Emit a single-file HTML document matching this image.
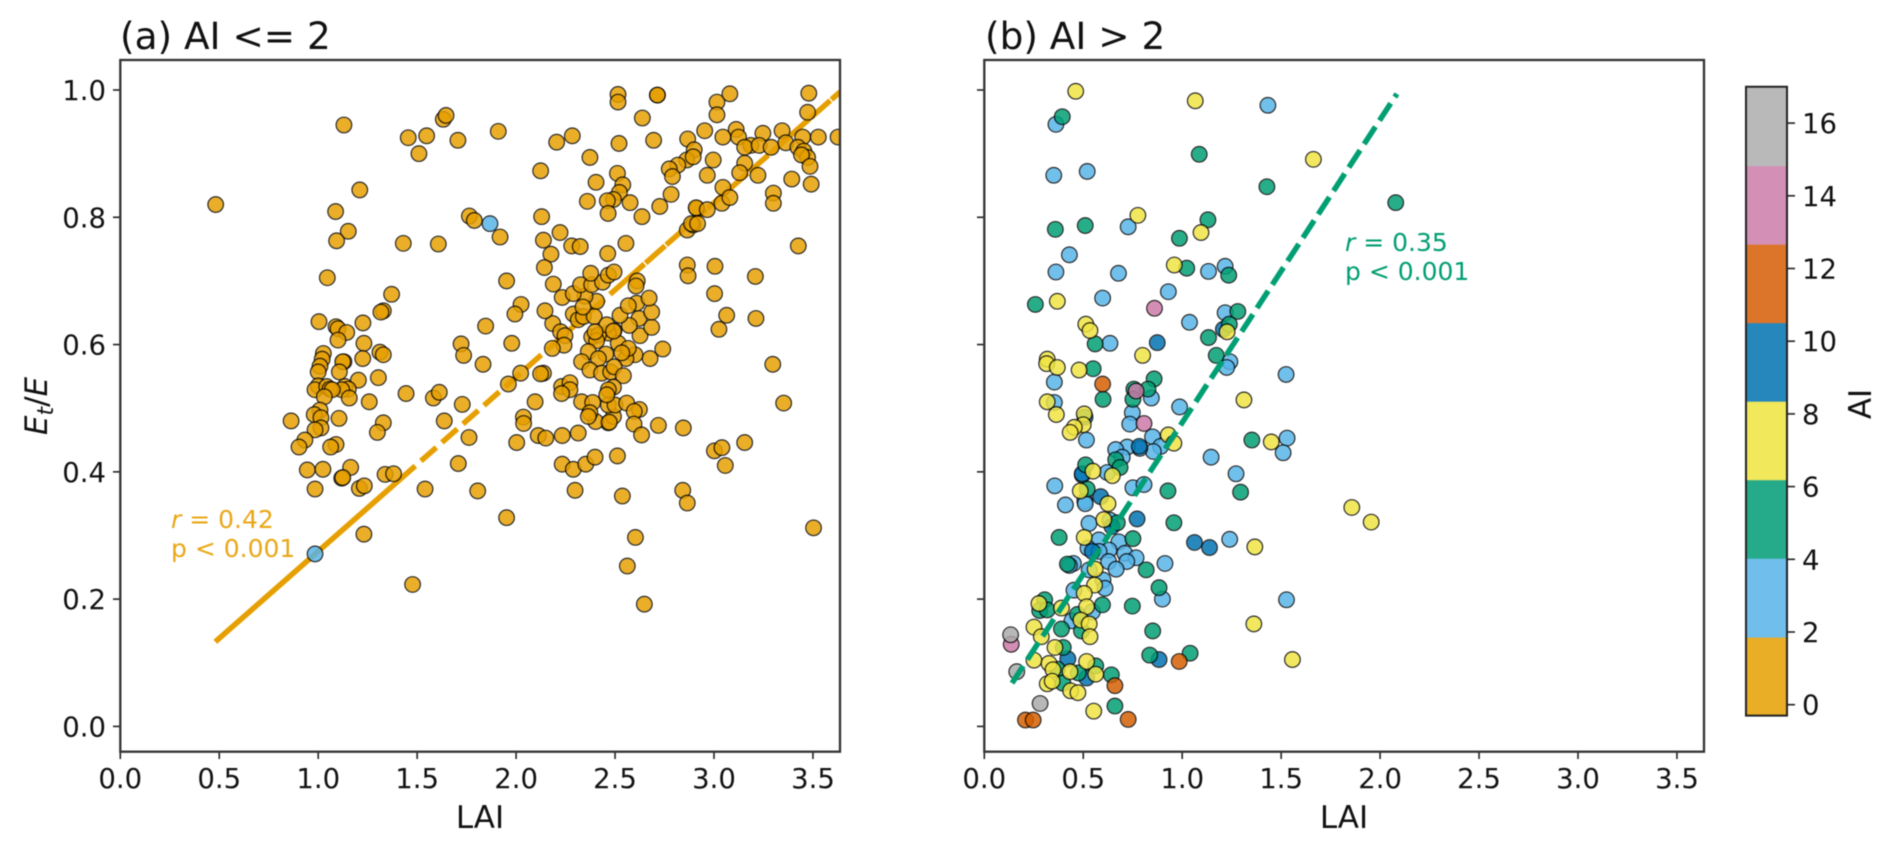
<!DOCTYPE html>
<html lang="en">
<head>
<meta charset="utf-8">
<title>Et/E versus LAI by aridity index</title>
<style>
html,body{margin:0;padding:0;background:#fff;}
body{width:1892px;height:847px;overflow:hidden;}
svg{display:block;filter:blur(0.5px);}
text{font-family:"DejaVu Sans","Liberation Sans",sans-serif;fill:#111;}
</style>
</head>
<body>
<svg id="chart" xmlns="http://www.w3.org/2000/svg" width="1892" height="847" viewBox="0 0 1892 847">
  <defs>
    <clipPath id="clip-a"><rect x="120.3" y="60" width="719.7" height="691.7"/></clipPath>
    <clipPath id="clip-b"><rect x="984.3" y="60" width="719.7" height="691.7"/></clipPath>
  </defs>
  <rect x="0" y="0" width="1892" height="847" fill="#fff"/>

  <g id="panel-a-lines" clip-path="url(#clip-a)"></g>
  <g id="panel-a-points" clip-path="url(#clip-a)"></g>
  <g id="panel-b-points" clip-path="url(#clip-b)"></g>
  <g id="panel-b-lines" clip-path="url(#clip-b)"></g>
  <g id="ticks"></g>
  <g id="colorbar"></g>

  <rect x="120.3" y="60" width="719.7" height="691.7" fill="none" stroke="#333" stroke-width="2.3"/>
  <rect x="984.3" y="60" width="719.7" height="691.7" fill="none" stroke="#333" stroke-width="2.3"/>

  <text x="120" y="49" font-size="37.4">(a) AI &lt;= 2</text>
  <text x="985" y="49" font-size="37.4">(b) AI &gt; 2</text>

  <text transform="translate(47,406) rotate(-90)" text-anchor="middle" font-size="31"><tspan font-style="italic">E</tspan><tspan font-style="italic" font-size="22" dy="6">t</tspan><tspan dy="-6">/</tspan><tspan font-style="italic">E</tspan></text>
  <text x="480" y="828" text-anchor="middle" font-size="31">LAI</text>
  <text x="1344" y="828" text-anchor="middle" font-size="31">LAI</text>

  <text x="171" y="528" font-size="25" style="fill:#e9a716"><tspan font-style="italic">r</tspan> = 0.42</text>
  <text x="171" y="557" font-size="25" style="fill:#e9a716">p &lt; 0.001</text>
  <text x="1345" y="251" font-size="25" style="fill:#009e73"><tspan font-style="italic">r</tspan> = 0.35</text>
  <text x="1345" y="280" font-size="25" style="fill:#009e73">p &lt; 0.001</text>
  <text transform="translate(1871,404) rotate(-90)" text-anchor="middle" font-size="31">AI</text>
</svg>

<script>
/* ---------- tick data ---------- */
const xTicks = [0, 0.5, 1, 1.5, 2, 2.5, 3, 3.5];
const xTickLabels = ['0.0', '0.5', '1.0', '1.5', '2.0', '2.5', '3.0', '3.5'];
const yTicks = [0, 0.2, 0.4, 0.6, 0.8, 1];
const yTickLabels = ['0.0', '0.2', '0.4', '0.6', '0.8', '1.0'];
const cbarTicks = [0, 2, 4, 6, 8, 10, 12, 14, 16];
const cbarTickLabels = ['0', '2', '4', '6', '8', '10', '12', '14', '16'];
const cbarEdges = [-0.3, 1.86, 4.03, 6.19, 8.35, 10.51, 12.67, 14.83, 17];

/* ---------- panel (a): AI <= 2 ---------- */
const laiA = [
.482,1.13,1.21,1.088,1.152,1.093,1.046,1.371,1.329,1.317,
1.226,1.004,1.09,1.10,1.144,1.10,1.231,1.312,1.329,1.026,
1.02,1.009,1.13,1.124,1.225,1.107,1.0,1.203,1.304,1.135,
1.152,1.119,1.0,.984,1.043,1.06,1.071,1.031,1.157,1.258,
1.009,.98,1.014,1.105,.863,1.329,1.299,1.014,.984,.933,
.903,1.09,1.063,.945,1.024,1.164,1.119,1.124,.984,1.208,
1.233,1.338,1.381,1.231,
1.632,1.646,1.455,1.548,1.509,1.706,1.91,2.124,2.205,2.284,
2.373,2.515,2.515,2.714,2.714,2.638,2.52,2.695,2.867,2.9,
2.862,2.895,2.817,2.774,2.79,2.512,2.539,2.404,2.522,2.492,
2.461,2.576,2.36,2.783,2.726,2.465,2.636,2.913,2.129,1.764,
1.789,1.919,1.43,1.607,1.952,2.025,1.994,1.846,2.138,2.222,
2.176,2.143,2.281,2.324,2.463,2.555,2.865,2.895,
3.426,2.865,2.869,3.005,3.209,3.003,3.064,3.212,3.025,3.297,
3.352,2.741,2.677,2.601,2.555,2.626,2.685,2.621,2.572,2.525,
2.685,2.609,2.672,2.567,2.495,2.466,2.516,2.567,2.382,2.416,
2.407,2.365,2.453,2.416,2.331,2.373,2.432,2.478,2.495,2.542,
2.534,2.138,2.185,2.225,2.247,2.242,2.183,2.146,2.289,2.314,
2.34,2.395,2.407,2.348,2.233,2.289,2.326,2.382,2.437,2.377,
2.466,2.495,2.188,2.612,2.606,2.338,2.458,2.492,2.399,
2.124,2.023,1.961,2.096,1.444,1.582,1.612,1.728,1.637,1.762,
1.708,1.54,1.806,1.952,1.477,1.722,1.735,1.978,1.833,2.23,
2.272,2.272,2.23,2.331,2.387,2.037,2.038,2.003,2.112,2.15,
2.233,2.314,2.466,2.402,2.373,2.492,2.466,2.5,2.559,2.623,
2.597,2.596,2.634,2.719,2.845,2.492,2.466,2.458,2.233,2.289,
2.352,2.399,2.512,2.298,2.537,2.842,2.865,2.603,2.562,2.648,
2.365,2.471,
3.015,3.08,3.015,2.953,3.112,3.124,3.045,3.186,3.247,3.344,
3.155,3.228,3.289,3.363,3.479,3.473,3.527,3.627,3.448,3.424,
3.454,3.473,3.442,3.485,3.491,2.996,3.155,3.13,3.045,3.04,
3.08,3.222,3.30,3.30,3.393,2.966,2.91,2.886,2.917,2.966,
3.155,3.002,3.04,3.057,3.503
];
const etA = [
.82,.945,.843,.809,.778,.763,.705,.679,.653,.651,
.634,.636,.628,.625,.619,.607,.602,.588,.584,.586,
.577,.566,.573,.573,.578,.557,.557,.544,.548,.534,
.53,.529,.535,.529,.534,.53,.529,.518,.516,.51,
.497,.49,.485,.484,.48,.477,.462,.469,.466,.45,
.439,.443,.439,.403,.404,.407,.39,.391,.373,.374,
.378,.396,.397,.302,
.954,.96,.925,.928,.9,.921,.935,.873,.918,.928,
.894,.993,.981,.992,.992,.956,.916,.921,.923,.906,
.89,.895,.882,.876,.864,.869,.851,.855,.839,.828,
.826,.823,.825,.836,.817,.806,.801,.814,.801,.802,
.795,.769,.759,.758,.70,.663,.648,.629,.764,.776,
.742,.721,.755,.754,.743,.759,.78,.788,
.755,.725,.708,.723,.707,.68,.646,.641,.624,.569,
.508,.593,.578,.584,.578,.614,.627,.641,.63,.646,
.651,.665,.673,.661,.622,.618,.602,.594,.612,.615,
.606,.589,.585,.578,.573,.56,.555,.557,.565,.551,
.587,.555,.633,.62,.614,.599,.594,.653,.648,.639,
.644,.644,.668,.676,.674,.68,.694,.694,.698,.712,
.709,.714,.695,.70,.692,.659,.631,.621,.62,
.554,.555,.538,.51,.523,.516,.525,.506,.48,.454,
.413,.373,.37,.328,.223,.601,.583,.602,.569,.534,
.54,.529,.523,.51,.509,.486,.476,.446,.457,.453,
.457,.461,.477,.479,.493,.487,.505,.505,.508,.498,
.495,.475,.458,.473,.469,.533,.529,.521,.412,.404,
.412,.423,.425,.371,.362,.371,.351,.297,.252,.192,
.487,.478,
.981,.994,.961,.936,.938,.926,.926,.913,.932,.936,
.91,.913,.91,.917,.995,.965,.926,.926,.926,.91,
.904,.894,.898,.88,.852,.89,.885,.87,.847,.822,
.831,.866,.838,.822,.86,.866,.815,.79,.79,.812,
.446,.433,.438,.41,.312
];
const laiAHumid = [1.868, .984];
const etAHumid = [.79, .271];
const fitALai = [0.48, 1.413, 2.55, 3.637];
const fitAEt = [0.133, 0.388, 0.6996, 0.997];

/* ---------- panel (b): AI > 2, one pair of arrays per colour class ---------- */
const laiBSky = [
.362,.351,.52,.43,.362,.598,.635,.354,.516,.354,
1.433,1.133,1.217,1.217,1.037,1.241,1.225,.727,.678,.93,
.844,.748,.987,.735,.85,.891,.854,.786,.722,.664,.697,
1.146,1.272,1.525,1.53,1.51,.495,.621,.356,.751,.807,
.508,.51,.41,.635,.529,.68,1.24,.579,.63,.524,.58,.71,.767,.72,.628,.666,.913,.45,.43,.53,.60,.61,.453,.90,.546,.443,1.527
];
const etBSky = [
.946,.866,.872,.741,.714,.673,.602,.541,.45,.509,
.976,.715,.723,.65,.635,.573,.564,.785,.712,.683,
.516,.493,.502,.475,.455,.44,.432,.437,.439,.435,.423,
.423,.397,.553,.453,.43,.395,.399,.378,.375,.38,
.354,.35,.348,.324,.319,.29,.294,.293,.277,.28,.275,.272,.265,.259,.259,.247,.256,.256,.253,.246,.23,.217,.214,.2,.18,.166,.199
];
const laiBNavy = [.874,.509,.495,.588,.772,.645,.546,1.062,1.138,.883,.422,.517,1.208,.783];
const etBNavy = [.603,.486,.397,.361,.326,.314,.275,.289,.281,.105,.106,.076,.624,.44];
const laiBGreen = [
.394,.359,.51,.258,.56,.55,.60,1.086,1.428,2.079,1.13,.986,1.023,1.235,1.281,1.238,1.133,1.172,.858,.756,.827,.751,.664,.686,1.295,1.352,.512,.928,.52,.958,.672,.378,.751,.818,.42,.883,.597,.748,.305,.28,.318,.471,.39,.491,.851,.399,.563,.475,.369,.642,.836,1.04,.397,.66
];
const etBGreen = [
.958,.781,.787,.663,.601,.562,.514,.899,.848,.823,.796,.767,.72,.709,.652,.632,.611,.583,.546,.53,.53,.514,.419,.407,.368,.45,.411,.37,.373,.32,.32,.297,.295,.246,.255,.218,.191,.189,.199,.182,.183,.176,.153,.15,.15,.124,.095,.084,.09,.081,.112,.115,.068,.032
];
const laiBYellow = [
.462,1.066,1.663,1.095,.776,.96,.369,.513,.534,.318,.315,.369,.479,.318,.364,.505,.50,.455,.434,.80,1.312,.93,.958,.549,.647,.485,.625,.604,.505,.56,.557,.505,.517,.276,.39,.488,.53,.251,.288,.534,.357,.251,.327,.517,.563,.433,.347,.318,.343,.436,.473,.553,1.45,1.857,1.955,1.367,1.362,1.557,1.227
];
const etBYellow = [
.998,.983,.891,.776,.803,.725,.668,.632,.622,.577,.57,.564,.56,.51,.49,.491,.474,.47,.462,.583,.513,.458,.445,.401,.394,.37,.35,.325,.297,.247,.222,.209,.188,.193,.186,.167,.161,.156,.141,.141,.124,.104,.099,.102,.082,.086,.089,.067,.071,.056,.053,.024,.447,.344,.321,.282,.161,.105,.62
];
const laiBOrange = [.598,.66,.985,.727,.208,.247];
const etBOrange = [.538,.064,.102,.011,.01,.01];
const laiBPink = [.767,.807,.136,.86];
const etBPink = [.527,.476,.129,.657];
const laiBGrey = [.133,.164,.282];
const etBGrey = [.144,.086,.036];
const fitBLai = [0.14, 2.085];
const fitBEt = [0.068, 0.994];

/* ---------- colours ---------- */
const colGold = '#e69f00';
const colSky = '#56b4e9';
const colGreen = '#009e73';
const colYellow = '#f0e442';
const colNavy = '#0072b2';
const colOrange = '#d55e00';
const colPink = '#cc79a7';
const colGrey = '#aaaaaa';
const cbarColors = ['#e9ad26', '#6fbeec', '#26ab8a', '#f2e85c', '#2687bd', '#dc7529', '#d38fb6', '#b9b9b9'];

/* ---------- axis functions ---------- */
const PXW = 197.9;
const xAxisA = v => 120.3 + v * PXW;
const xAxisB = v => 984.3 + v * PXW;
const yAxis = v => 726.4 - v * 636.4;
const cbarAxis = v => 704.7 - v * 36.35;

const NS = 'http://www.w3.org/2000/svg';
function mk(tag, parent, attrs) {
  const el = document.createElementNS(NS, tag);
  for (const k in attrs) el.setAttribute(k, attrs[k]);
  parent.appendChild(el);
  return el;
}

function drawPoints(parent, xFn, lai, et, color) {
  for (let i = 0; i < lai.length; i++) {
    const c = mk('circle', parent, {cx: xFn(lai[i]), cy: yAxis(et[i]), r: 7.8, fill: color, stroke: '#000', 'stroke-width': 1.2, opacity: 0.84});
    
    
  }
}

function drawFit(parent, xFn, lai, et, i, color, dash) {
  const l = mk('line', parent, {x1: xFn(lai[i]), y1: yAxis(et[i]), x2: xFn(lai[i + 1]), y2: yAxis(et[i + 1]), stroke: color, 'stroke-width': 5.5});
  if (dash) l.setAttribute('stroke-dasharray', dash);
  
  
}

/* ---------- draw panel (a) ---------- */
const gLinesA = document.getElementById('panel-a-lines');
drawFit(gLinesA, xAxisA, fitALai, fitAEt, 0, colGold, '');
drawFit(gLinesA, xAxisA, fitALai, fitAEt, 1, colGold, '20.5 7.5');
drawFit(gLinesA, xAxisA, fitALai, fitAEt, 2, colGold, '26 1.5');
const gPtsA = document.getElementById('panel-a-points');
drawPoints(gPtsA, xAxisA, laiA, etA, colGold);
drawPoints(gPtsA, xAxisA, laiAHumid, etAHumid, colSky);

/* ---------- draw panel (b) ---------- */
const gPtsB = document.getElementById('panel-b-points');
drawPoints(gPtsB, xAxisB, laiBSky, etBSky, colSky);
drawPoints(gPtsB, xAxisB, laiBNavy, etBNavy, colNavy);
drawPoints(gPtsB, xAxisB, laiBGreen, etBGreen, colGreen);
drawPoints(gPtsB, xAxisB, laiBYellow, etBYellow, colYellow);
drawPoints(gPtsB, xAxisB, laiBOrange, etBOrange, colOrange);
drawPoints(gPtsB, xAxisB, laiBPink, etBPink, colPink);
drawPoints(gPtsB, xAxisB, laiBGrey, etBGrey, colGrey);
drawFit(document.getElementById('panel-b-lines'), xAxisB, fitBLai, fitBEt, 0, colGreen, '20.5 7.5');

/* ---------- ticks ---------- */
const gTicks = document.getElementById('ticks');
[xAxisA, xAxisB].forEach(fn => {
  xTicks.forEach((v, i) => {
    const t = mk('line', gTicks, {x1: fn(v), x2: fn(v), y1: 751.7, y2: 759, stroke: '#222', 'stroke-width': 1.6});
    
    
    const lab = mk('text', gTicks, {x: fn(v), y: 788, 'text-anchor': 'middle', 'font-size': 27.5});
    lab.textContent = xTickLabels[i];
    
    
  });
});
yTicks.forEach((v, i) => {
  const t = mk('line', gTicks, {x1: 113, x2: 120.3, y1: yAxis(v), y2: yAxis(v), stroke: '#222', 'stroke-width': 1.6});
  
  
  const t2 = mk('line', gTicks, {x1: 977, x2: 984.3, y1: yAxis(v), y2: yAxis(v), stroke: '#222', 'stroke-width': 1.6});
  
  
  const lab = mk('text', gTicks, {x: 106, y: yAxis(v) + 10, 'text-anchor': 'end', 'font-size': 27.5});
  lab.textContent = yTickLabels[i];
  
  
});

/* ---------- colour bar ---------- */
const gBar = document.getElementById('colorbar');
cbarColors.forEach((c, i) => {
  const top = cbarAxis(cbarEdges[i + 1]);
  const r = mk('rect', gBar, {x: 1746, y: top, width: 41, height: cbarAxis(cbarEdges[i]) - top + 0.5, fill: c});
  
  
});
const frame = mk('rect', gBar, {x: 1746, y: cbarAxis(cbarEdges[8]), width: 41, height: cbarAxis(cbarEdges[0]) - cbarAxis(cbarEdges[8]), fill: 'none', stroke: '#222', 'stroke-width': 2});


cbarTicks.forEach((v, i) => {
  const t = mk('line', gBar, {x1: 1787, x2: 1795, y1: cbarAxis(v), y2: cbarAxis(v), stroke: '#222', 'stroke-width': 1.6});
  
  
  const lab = mk('text', gBar, {x: 1802, y: cbarAxis(v) + 10, 'font-size': 27.5});
  lab.textContent = cbarTickLabels[i];
  
  
});
</script>
</body>
</html>
